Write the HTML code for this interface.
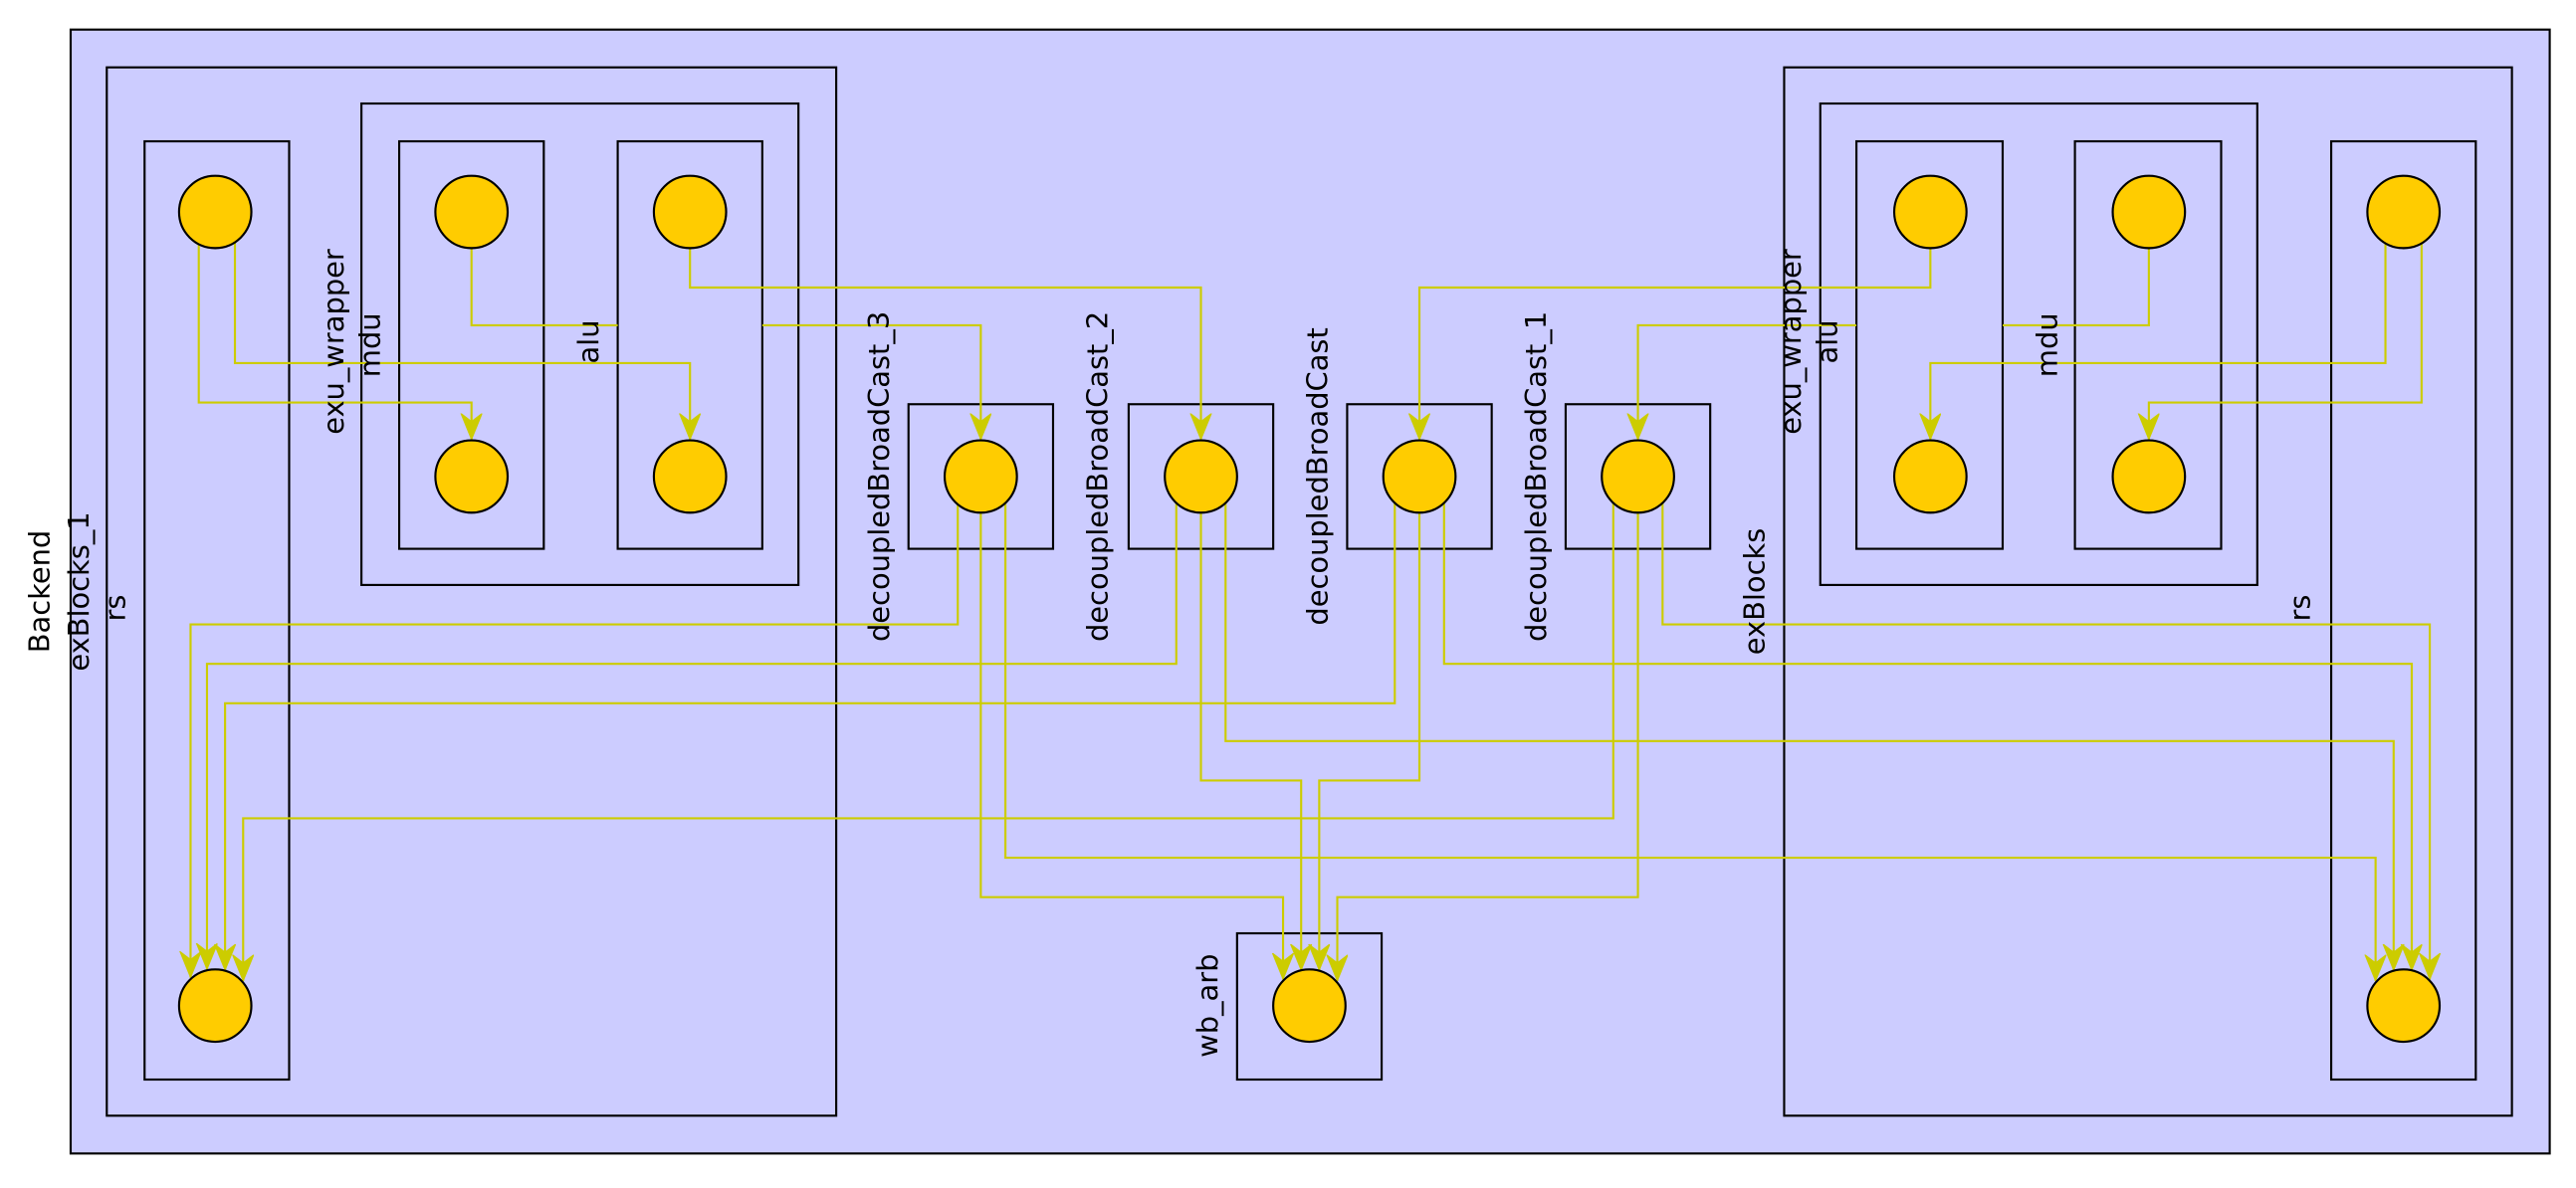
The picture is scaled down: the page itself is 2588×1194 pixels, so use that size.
<!DOCTYPE html>
<html><head><meta charset="utf-8"><style>
html,body{margin:0;padding:0;background:#fff;}
svg{display:block;}
text{font-family:"DejaVu Sans","Liberation Sans",sans-serif;font-size:17.5px;fill:#000;}
</style></head><body>
<svg width="2588" height="1194" viewBox="0 0 1568 723" preserveAspectRatio="none" xmlns="http://www.w3.org/2000/svg">
<defs>
<marker id="a" markerUnits="userSpaceOnUse" markerWidth="17" markerHeight="14" refX="16" refY="6.5" orient="auto" viewBox="0 0 17 14">
<path d="M0,0 L16,6.5 L0,13 L5,6.5 Z" fill="#cccc00" stroke="#cccc00" stroke-width="0.6"/>
</marker>
</defs>
<g fill="#ccccff" stroke="#000" stroke-width="1.3">
<rect x="43" y="18" width="1509" height="684"/>
<rect x="65" y="41" width="444" height="638"/>
<rect x="88" y="86" width="88" height="571"/>
<rect x="220" y="63" width="266" height="293"/>
<rect x="243" y="86" width="88" height="248"/>
<rect x="376" y="86" width="88" height="248"/>
<rect x="553" y="246" width="88" height="88"/>
<rect x="687" y="246" width="88" height="88"/>
<rect x="820" y="246" width="88" height="88"/>
<rect x="953" y="246" width="88" height="88"/>
<rect x="753" y="568" width="88" height="89"/>
<rect x="1086" y="41" width="443" height="638"/>
<rect x="1108" y="63" width="266" height="293"/>
<rect x="1130" y="86" width="89" height="248"/>
<rect x="1263" y="86" width="89" height="248"/>
<rect x="1419" y="86" width="88" height="571"/>
</g>
<g fill="none" stroke="#cccc00" stroke-width="1.3">
<path d="M121,140 V245 H287 V267.5" marker-end="url(#a)"/>
<path d="M143,140 V221 H420 V267.5" marker-end="url(#a)"/>
<path d="M287,140 V198 H376"/>
<path d="M464,198 H597 V267.5" marker-end="url(#a)"/>
<path d="M420,140 V175 H731 V267.5" marker-end="url(#a)"/>
<path d="M1175,140 V175 H864 V267.5" marker-end="url(#a)"/>
<path d="M1308,140 V198 H1219"/>
<path d="M1130,198 H997 V267.5" marker-end="url(#a)"/>
<path d="M1452,140 V221 H1175 V267.5" marker-end="url(#a)"/>
<path d="M1474,140 V245 H1308 V267.5" marker-end="url(#a)"/>
<path d="M583,300 V380 H116 V595" marker-end="url(#a)"/>
<path d="M597,300 V546 H781 V596" marker-end="url(#a)"/>
<path d="M612,300 V522 H1446 V597" marker-end="url(#a)"/>
<path d="M716,300 V404 H126 V590" marker-end="url(#a)"/>
<path d="M731,300 V475 H792 V590.5" marker-end="url(#a)"/>
<path d="M746,300 V451 H1457 V590.5" marker-end="url(#a)"/>
<path d="M849,300 V428 H137 V590.5" marker-end="url(#a)"/>
<path d="M864,300 V475 H803 V590.5" marker-end="url(#a)"/>
<path d="M879,300 V404 H1468 V590.5" marker-end="url(#a)"/>
<path d="M982,300 V498 H148 V597" marker-end="url(#a)"/>
<path d="M997,300 V546 H814 V597" marker-end="url(#a)"/>
<path d="M1012,300 V380 H1479 V596" marker-end="url(#a)"/>
</g>
<g fill="#ffcc00" stroke="#000" stroke-width="1.3">
<circle cx="131" cy="129" r="22"/><circle cx="131" cy="612" r="22"/>
<circle cx="287" cy="129" r="22"/><circle cx="287" cy="290" r="22"/>
<circle cx="420" cy="129" r="22"/><circle cx="420" cy="290" r="22"/>
<circle cx="597" cy="290" r="22"/><circle cx="731" cy="290" r="22"/>
<circle cx="864" cy="290" r="22"/><circle cx="997" cy="290" r="22"/>
<circle cx="797" cy="612" r="22"/>
<circle cx="1175" cy="129" r="22"/><circle cx="1175" cy="290" r="22"/>
<circle cx="1308" cy="129" r="22"/><circle cx="1308" cy="290" r="22"/>
<circle cx="1463" cy="129" r="22"/><circle cx="1463" cy="612" r="22"/>
</g>
<g text-anchor="middle" dominant-baseline="central">
<text transform="translate(24,360) rotate(-90)">Backend</text>
<text transform="translate(48,360) rotate(-90)">exBlocks_1</text>
<text transform="translate(70,370) rotate(-90)">rs</text>
<text transform="translate(203,208) rotate(-90)">exu_wrapper</text>
<text transform="translate(225,210) rotate(-90)">mdu</text>
<text transform="translate(358,208) rotate(-90)">alu</text>
<text transform="translate(535,290) rotate(-90)">decoupledBroadCast_3</text>
<text transform="translate(668,290) rotate(-90)">decoupledBroadCast_2</text>
<text transform="translate(802,290) rotate(-90)">decoupledBroadCast</text>
<text transform="translate(935,290) rotate(-90)">decoupledBroadCast_1</text>
<text transform="translate(735,612) rotate(-90)">wb_arb</text>
<text transform="translate(1068,360) rotate(-90)">exBlocks</text>
<text transform="translate(1090,208) rotate(-90)">exu_wrapper</text>
<text transform="translate(1112,208) rotate(-90)">alu</text>
<text transform="translate(1246,210) rotate(-90)">mdu</text>
<text transform="translate(1400,370) rotate(-90)">rs</text>
</g>
</svg>
</body></html>
